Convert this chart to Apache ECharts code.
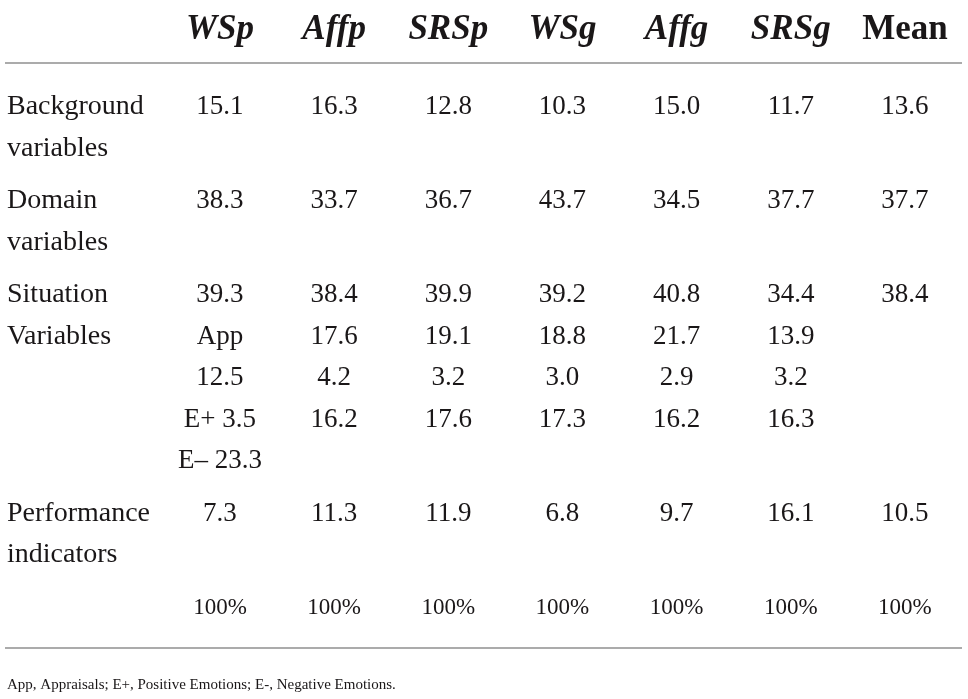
<!DOCTYPE html>
<html><head><meta charset="utf-8">
<script src="https://cdn.jsdelivr.net/npm/echarts@6/dist/echarts.min.js"></script>
<style>html,body{margin:0;padding:0;background:#fff}#c{width:968px;height:699px}</style>
</head><body><div id="c"></div>
<script>
// ---- data ----
const columns = ['WSp', 'Affp', 'SRSp', 'WSg', 'Affg', 'SRSg', 'Mean'];
const rowLabels = [['Background', 'variables'], ['Domain', 'variables'], ['Situation', 'Variables'], ['Performance', 'indicators']];
const background = [15.1, 16.3, 12.8, 10.3, 15.0, 11.7, 13.6];
const domain = [38.3, 33.7, 36.7, 43.7, 34.5, 37.7, 37.7];
const situation = [
  ['39.3', 'App', '12.5', 'E+ 3.5', 'E\u2013 23.3'],
  ['38.4', '17.6', '4.2', '16.2'],
  ['39.9', '19.1', '3.2', '17.6'],
  ['39.2', '18.8', '3.0', '17.3'],
  ['40.8', '21.7', '2.9', '16.2'],
  ['34.4', '13.9', '3.2', '16.3'],
  ['38.4']
];
const performance = [7.3, 11.3, 11.9, 6.8, 9.7, 16.1, 10.5];
const totals = ['100%', '100%', '100%', '100%', '100%', '100%', '100%'];
const footnote = 'App, Appraisals; E+, Positive Emotions; E-, Negative Emotions.';

// ---- layout (line units) ----
const X_MIN = -0.883, X_MAX = 7.5;
const Y_MIN = -0.723, Y_MAX = 16.12;
const HEADER_RULE_GAP = 0.795, HEADER_BODY_GAP = 1.855, BLOCK_GAP = 1.265, BOTTOM_RULE_GAP = 0.96, FOOT_GAP = 0.91;
const FONT = "'Liberation Serif', 'Times New Roman', serif";
const INK = '#1a1718';

const fmt = v => (typeof v === 'number' ? v.toFixed(1) : v);
const colX = i => i + 1;

const headerData = columns.map((c, i) => ({
  value: [colX(i), 0, c],
  label: { fontStyle: c === 'Mean' ? 'normal' : 'italic' }
}));

const blocks = [
  { label: rowLabels[0], cols: background.map(v => [fmt(v)]) },
  { label: rowLabels[1], cols: domain.map(v => [fmt(v)]) },
  { label: rowLabels[2], cols: situation },
  { label: rowLabels[3], cols: performance.map(v => [fmt(v)]) }
];

const labelData = [];
const cellData = [];
let y = HEADER_BODY_GAP;
blocks.forEach(b => {
  const n = Math.max(b.label.length, ...b.cols.map(c => c.length));
  b.label.forEach((t, k) => labelData.push([X_MIN, y + k, t]));
  b.cols.forEach((lines, i) => lines.forEach((t, k) => cellData.push([colX(i), y + k, t])));
  y += (n - 1) + BLOCK_GAP;
});
const totalY = y;
const totalData = totals.map((t, i) => [colX(i), totalY, t]);
const bottomRule = totalY + BOTTOM_RULE_GAP;
const footY = bottomRule + FOOT_GAP;

const hidden = () => ({ symbolSize: 1, itemStyle: { color: 'rgba(0,0,0,0)', opacity: 1 }, silent: true });
const lab = (extra) => Object.assign({ show: true, position: 'inside', align: 'center', opacity: 1,
  formatter: p => p.value[2], color: INK, fontFamily: FONT, fontSize: 27 }, extra);

const chart = echarts.init(document.getElementById('c'), null, { renderer: 'canvas' });
chart.setOption({
  animation: false,
  backgroundColor: '#fff',
  grid: { left: 5, right: 6, top: 0, bottom: 0 },
  xAxis: { type: 'value', min: X_MIN, max: X_MAX, show: false },
  yAxis: { type: 'value', min: Y_MIN, max: Y_MAX, inverse: true, show: false },
  series: [
    Object.assign(hidden(), {
      type: 'scatter', name: 'header', data: headerData,
      label: lab({ fontSize: 35, fontWeight: 'bold', fontStyle: 'italic' }),
      markLine: {
        symbol: 'none', silent: true, label: { show: false },
        lineStyle: { color: '#8f8f8f', width: 1.5, type: 'solid', opacity: 1 },
        data: [
          [{ coord: [X_MIN, HEADER_RULE_GAP] }, { coord: [X_MAX, HEADER_RULE_GAP] }],
          [{ coord: [X_MIN, bottomRule] }, { coord: [X_MAX, bottomRule] }]
        ]
      }
    }),
    Object.assign(hidden(), {
      type: 'scatter', name: 'rows', data: labelData,
      label: lab({ align: 'left', offset: [2, 0], fontSize: 28 })
    }),
    Object.assign(hidden(), {
      type: 'scatter', name: 'cells', data: cellData,
      label: lab({})
    }),
    Object.assign(hidden(), {
      type: 'scatter', name: 'totals', data: totalData,
      label: lab({ fontSize: 23 })
    }),
    Object.assign(hidden(), {
      type: 'scatter', name: 'footnote', data: [[X_MIN, footY, footnote]],
      label: lab({ align: 'left', offset: [2, 0], fontSize: 15 })
    })
  ]
});
</script></body></html>
